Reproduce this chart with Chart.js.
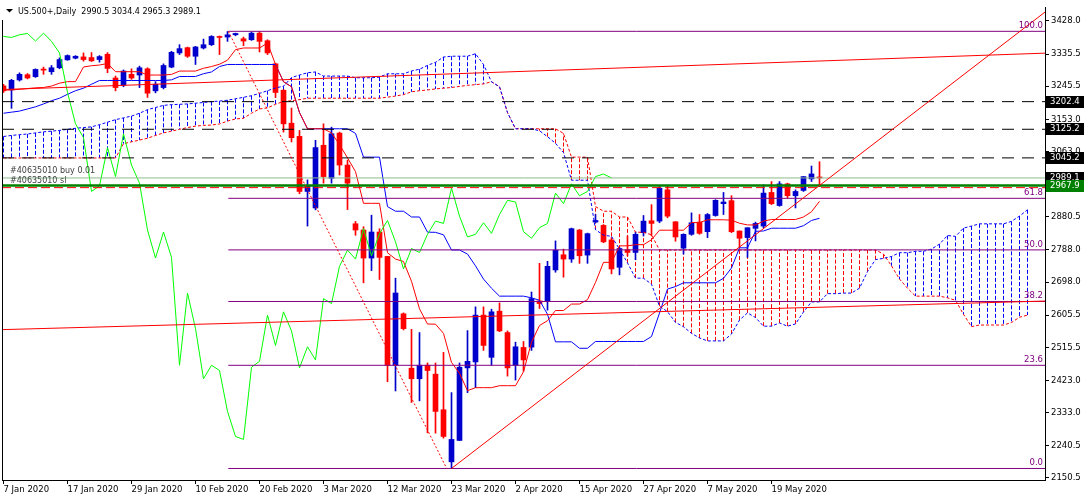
<!DOCTYPE html>
<html>
<head>
<meta charset="utf-8">
<title>US.500+,Daily</title>
<script src="https://cdn.jsdelivr.net/npm/chart.js@4.4.1/dist/chart.umd.min.js"></script>
<style>
html, body { margin: 0; padding: 0; background: #fff; }
#wrap { position: relative; width: 1086px; height: 501px; }
</style>
</head>
<body>
<div id="wrap"><canvas id="chart" width="1086" height="501"></canvas></div>
<script>
"use strict";

// time axis: a date label every 8th bar
var dateLabels = ['7 Jan 2020', '17 Jan 2020', '29 Jan 2020', '10 Feb 2020', '20 Feb 2020', '3 Mar 2020',
    '12 Mar 2020', '23 Mar 2020', '2 Apr 2020', '15 Apr 2020', '27 Apr 2020', '7 May 2020', '19 May 2020'];
var dateLabelBars = [0, 8, 16, 24, 32, 40, 48, 56, 64, 72, 80, 88, 96];

var priceTicks = [3428.0, 3335.5, 3245.5, 3153.0, 3063.0, 2970.5, 2880.5, 2788.0, 2698.0,
    2605.5, 2515.5, 2423.0, 2333.0, 2240.5, 2150.5];

// daily candles, bar 0 = 7 Jan 2020
var opens = [3246.4, 3235.3, 3263, 3277.7, 3272.2, 3292.5, 3286, 3297.1, 3319.2, 3323.9,
    3327.5, 3325.7, 3320.1, 3334.9, 3268.5, 3248.2, 3278.7, 3276.8, 3294.3, 3232.6,
    3241.8, 3299, 3338.6, 3353.3, 3329.3, 3352.4, 3361.6, 3384.7, 3382.9, 3389.3,
    3378.2, 3375.5, 3393.9, 3372.7, 3308.2, 3234.4, 3142.2, 3105.3, 2951.4, 2905.3,
    3080.5, 2988.3, 3114.6, 3025.2, 2861.1, 2843.6, 2765.2, 2838, 2769.8, 2465.6,
    2609.4, 2457.3, 2427.8, 2465.6, 2440.7, 2341.2, 2195.5, 2255.4, 2458.2, 2474.8,
    2605.7, 2487.7, 2616.8, 2556.9, 2465.6, 2515.4, 2516.3, 2645.4, 2645.4, 2732,
    2774.4, 2762.4, 2843.6, 2773.5, 2865.7, 2856.5, 2815.9, 2739.4, 2788.2, 2780.9,
    2836.2, 2869.4, 2868.5, 2956, 2866.6, 2792.8, 2831.6, 2865.7, 2839, 2884.1,
    2917.3, 2925.6, 2840.8, 2822.4, 2848.2, 2854.6, 2948.6, 2912, 2972.6, 2939.4,
    2954.2, 2986.4, 2990.5];
var highs = [3251, 3264.8, 3283, 3281, 3294, 3299, 3303.5, 3324.8, 3333, 3331,
    3338.6, 3339.5, 3331.2, 3339.5, 3274, 3291, 3294.3, 3301.7, 3297.1, 3258.5,
    3308, 3343, 3361.7, 3355, 3357, 3377.3, 3387, 3386, 3398.5, 3394,
    3382.9, 3396.7, 3398.5, 3375.5, 3310, 3236, 3184.6, 3121.9, 2983.7, 3094.3,
    3140.4, 3131, 3117.3, 3039, 2867.5, 2852.8, 2885, 2847.2, 2770, 2709,
    2612, 2566, 2556.9, 2472, 2472, 2501.5, 2389.1, 2472, 2562.4, 2628.8,
    2628.8, 2622.3, 2639.8, 2561.5, 2530.1, 2532, 2670.3, 2750.4, 2756, 2813.1,
    2790.1, 2849, 2845, 2835, 2886.9, 2859, 2822.4, 2794.7, 2827, 2838,
    2884.1, 2914.5, 2968, 2965.3, 2867, 2833, 2891.5, 2886.9, 2889.7, 2928.4,
    2948.6, 2939.4, 2840.8, 2850, 2865.7, 2970, 2979, 2979, 2974.5, 2956,
    2993, 3022.4, 3034.4];
var lows = [3228, 3183.7, 3260, 3266, 3270, 3278.7, 3278.7, 3294.3, 3318, 3322,
    3315.5, 3314.6, 3312.8, 3283.3, 3232.6, 3244, 3264.8, 3241.8, 3214.1, 3227,
    3238, 3297, 3334, 3326, 3306.3, 3349.6, 3359, 3334, 3370.9, 3386.5,
    3359, 3373.6, 3341.3, 3334, 3214.1, 3117.3, 3089.7, 2945, 2854.6, 2900,
    2974.5, 2974.5, 2997.5, 2900.7, 2828.8, 2696, 2730.2, 2705.3, 2419.5, 2393.7,
    2564.2, 2361.4, 2366, 2276.6, 2275.7, 2261.9, 2177, 2255, 2389.1, 2402.9,
    2507.1, 2465.6, 2559.6, 2435.2, 2424.1, 2449, 2507.1, 2624.2, 2619.6, 2725.6,
    2711.7, 2753.2, 2750.4, 2750.4, 2863.8, 2808, 2721, 2718.2, 2771.6, 2760.6,
    2827, 2827, 2863.8, 2877.7, 2812.2, 2776.3, 2828.8, 2831.6, 2822.4, 2882.2,
    2886.9, 2836.2, 2794.7, 2767, 2813.1, 2850, 2914.5, 2910, 2933, 2905.3,
    2951.4, 2979.1, 2965.3];
var closes = [3232.6, 3262, 3278.7, 3268.5, 3292.5, 3290.6, 3297.1, 3320.1, 3331.2, 3329.3,
    3320.1, 3316.5, 3328.4, 3295.3, 3241.8, 3287.9, 3268.5, 3297.1, 3226.1, 3251,
    3303.5, 3340.4, 3350.6, 3329.3, 3355.2, 3361.6, 3384.7, 3381.9, 3389.3, 3393,
    3371.8, 3393.9, 3370.9, 3338.6, 3228, 3140.4, 3101.7, 2951.4, 2967.1, 3074,
    2992.9, 3112.7, 3025.2, 2974.5, 2843.6, 2765.2, 2838, 2767, 2465.6, 2667.5,
    2567.9, 2427.8, 2465.6, 2450.9, 2336.5, 2266.5, 2258.2, 2460.1, 2476.6, 2605.7,
    2520.9, 2614.9, 2561.5, 2458.2, 2517.2, 2480.4, 2651.8, 2638, 2742.2, 2787.3,
    2762.4, 2847.3, 2771.6, 2833.4, 2870.3, 2810.4, 2734.8, 2791.9, 2780.9, 2831.6,
    2868.5, 2862, 2960.6, 2882.3, 2824.2, 2831.6, 2863.8, 2834.3, 2886.9, 2926.5,
    2921.9, 2839, 2820.5, 2850, 2862, 2946.8, 2917.3, 2972.6, 2939.4, 2951.4,
    2992.9, 3000.3, 2989.1];

// ichimoku lines
var tenkan = [3235, 3235, 3237, 3239, 3241, 3242, 3246, 3254, 3258.4, 3258.4,
    3299.3, 3302.8, 3304.8, 3309.1, 3286.1, 3286.1, 3286.1, 3286.1, 3276.8, 3276.8,
    3276.8, 3278.6, 3287.9, 3287.9, 3287.9, 3295.7, 3300.6, 3307, 3318.3, 3347.8,
    3352.4, 3352.4, 3352.4, 3366.3, 3306.3, 3257.9, 3244.1, 3171.8, 3126.6, 3126.6,
    3126.6, 3115.1, 3082.3, 3045.3, 3006.7, 2918.2, 2918.2, 2918.2, 2780, 2762.4,
    2755.5, 2700.2, 2623.2, 2580.8, 2580.4, 2554.6, 2473.5, 2443, 2394.5, 2402.9,
    2402.9, 2402.9, 2408.4, 2408.4, 2408.4, 2447.4, 2529.7, 2576.7, 2590, 2618.6,
    2618.6, 2636.6, 2636.6, 2649, 2697, 2753.3, 2753.3, 2799.3, 2799.3, 2802.6,
    2802.6, 2816.4, 2843.1, 2843.1, 2843.1, 2843.1, 2864.3, 2864.3, 2872.2, 2872.2,
    2872.2, 2870.8, 2862.5, 2857.8, 2857.8, 2868.5, 2873, 2873, 2873, 2873,
    2880, 2894.7, 2923.8];
var kijun = [3170, 3173, 3176, 3182, 3188, 3196, 3205, 3212, 3223, 3233,
    3240, 3251, 3261.6, 3261.6, 3261.6, 3261.6, 3261.6, 3261.6, 3261.6, 3261.6,
    3261.6, 3263.4, 3272.7, 3272.7, 3272.7, 3280.5, 3285.4, 3300.6, 3306.3, 3306.3,
    3306.3, 3306.3, 3306.3, 3306.3, 3306.3, 3257.9, 3244.1, 3171.8, 3126.6, 3126.6,
    3126.6, 3126.6, 3126.6, 3126.6, 3113.7, 3047.3, 3047.3, 3047.3, 2909, 2896.1,
    2896.1, 2880, 2880, 2837.6, 2837.1, 2830.2, 2787.8, 2787.8, 2776.3, 2743.5,
    2706.5, 2680.8, 2658.7, 2658.7, 2658.7, 2658.7, 2654, 2647.2, 2608, 2531,
    2531, 2531, 2513, 2513, 2532, 2532, 2532, 2532, 2532, 2532,
    2532, 2545.8, 2611.5, 2678.6, 2685.5, 2696, 2696, 2696, 2696, 2696,
    2708.5, 2737.6, 2793.8, 2793.8, 2839.9, 2840.9, 2848.6, 2848.6, 2848.6, 2848.6,
    2855.6, 2870.3, 2876.3];
// cloud spans run 26 bars past the last candle
var spanA = [3105, 3108, 3110, 3112, 3115, 3118, 3120, 3122, 3125, 3128,
    3130, 3132, 3138, 3145, 3152, 3157, 3162, 3170, 3180, 3186,
    3192, 3194, 3195, 3196, 3198, 3200,
    3202.5, 3204, 3206.5, 3210.5, 3214.5, 3219, 3225.5, 3233, 3240.7, 3245.7,
    3269.7, 3276.9, 3283.2, 3285.4, 3273.9, 3273.9, 3273.9, 3273.9, 3269.2, 3269.2,
    3269.2, 3271, 3280.3, 3280.3, 3280.3, 3288.1, 3293, 3303.8, 3312.3, 3327.1,
    3329.4, 3329.4, 3329.4, 3336.3, 3306.3, 3257.9, 3244.1, 3171.8, 3126.6, 3126.6,
    3126.6, 3120.9, 3104.5, 3086, 3060.2, 2982.8, 2982.8, 2982.8, 2844.5, 2829.3,
    2825.8, 2790.1, 2751.6, 2709.2, 2708.8, 2692.4, 2630.7, 2615.4, 2585.4, 2573.2,
    2554.7, 2541.9, 2533.6, 2533.6, 2533.6, 2553, 2591.9, 2612, 2599, 2574.8,
    2574.8, 2583.8, 2574.8, 2581, 2614.5, 2642.7, 2642.7, 2665.7, 2665.7, 2667.3,
    2667.3, 2681.1, 2727.3, 2760.9, 2764.3, 2769.6, 2780.2, 2780.2, 2784.1, 2784.1,
    2790.4, 2804.2, 2828.2, 2825.8, 2848.9, 2854.7, 2860.8, 2860.8, 2860.8, 2860.8,
    2867.8, 2882.5, 2900.1];
var spanB = [3045, 3045, 3045, 3045, 3045, 3045, 3045, 3045, 3045, 3045,
    3045, 3045, 3045, 3045, 3045,
    3085, 3090, 3095, 3100, 3108, 3115, 3120, 3125, 3130, 3134,
    3136, 3137, 3140, 3148, 3154, 3156, 3170, 3182, 3185, 3195,
    3203, 3205, 3208, 3212, 3212, 3212, 3212, 3212, 3212, 3212,
    3212, 3212, 3212, 3215, 3218, 3222, 3230, 3233, 3235, 3238,
    3240, 3242, 3245, 3248, 3250, 3252,
    3257.9, 3244.1, 3171.8, 3126.6, 3126.6, 3126.6, 3126.6, 3126.6, 3126.6, 3113.7,
    3047.3, 3047.3, 3047.3, 2909, 2896.1, 2896.1, 2880, 2880, 2837.6, 2837.1,
    2830.2, 2787.8, 2787.8, 2787.8, 2787.8, 2787.8, 2787.8, 2787.8, 2787.8, 2787.8,
    2787.8, 2787.8, 2787.8, 2787.8, 2787.8, 2787.8, 2787.8, 2787.8, 2787.8, 2787.8,
    2787.8, 2787.8, 2787.8, 2787.8, 2787.8, 2787.8, 2787.8, 2787.8, 2787.8,
    2776.3, 2743.5, 2706.5, 2680.8, 2658.7, 2658.7, 2658.7, 2658.7, 2654, 2647.2,
    2608, 2573.5, 2578, 2578, 2578, 2578, 2585, 2599.7, 2605.7];
var chikouShift = 26;

// objects drawn on the chart
var fibLevels = ['0.0', '23.6', '38.2', '50.0', '61.8', '100.0'];
var fibPrices = [2177, 2465.4, 2643.8, 2788, 2932.2, 3399];
var fibStartBar = 28.1;
var fibDiagonal = [[28.1, 3399], [55.4, 2177]];
var dashedLevels = [3202.4, 3125.2, 3045.2];
var bidPrice = 2989.1;
var orderPrice = 2967.9;
var stopPrice = 2962;
var upperTrend = [[-0.4, 3236], [130.2, 3338]];
var lowerTrend = [[-0.4, 2565], [130.2, 2645]];
var riseTrend = [[56, 2177], [130.2, 3453]];
var axisBoxes = [[3202.4, '#000000'], [3125.2, '#000000'], [3045.2, '#000000'],
    [2989.1, '#000000'], [2967.9, '#008000']];

var X_MIN = -0.1875, X_MAX = 130.1875;
var Y_MIN = 2144.8, Y_MAX = 3466.7;
var FONT = '"DejaVu Sans", Tahoma, sans-serif';
var BULL = '#0000cd', BEAR = '#ff0000';

function segment(points, color, width, dash, order) {
    return {
        type: 'line',
        data: points.map(function (p) { return {x: p[0], y: p[1]}; }),
        borderColor: color,
        borderWidth: width,
        borderDash: dash || [],
        pointRadius: 0,
        fill: false,
        tension: 0,
        order: order
    };
}

function series(values, shift, color, dash, order) {
    return {
        type: 'line',
        data: values.map(function (v, i) { return {x: i + shift, y: v}; }),
        borderColor: color,
        borderWidth: 1,
        borderDash: dash || [],
        pointRadius: 0,
        fill: false,
        tension: 0,
        order: order
    };
}

function candleColors() {
    return closes.map(function (c, i) { return c >= opens[i] ? BULL : BEAR; });
}

var datasets = [];

// chart objects on top
datasets.push(segment(upperTrend, '#ff0000', 1, null, 1));
datasets.push(segment(lowerTrend, '#ff0000', 1, null, 1));
datasets.push(segment(riseTrend, '#ff0000', 1, null, 1));
datasets.push(segment(fibDiagonal, '#ff0000', 1, [2, 2], 1));
fibPrices.forEach(function (p) {
    datasets.push(segment([[fibStartBar, p], [X_MAX, p]], '#800080', 1, null, 1));
});
dashedLevels.forEach(function (p) {
    datasets.push(segment([[X_MIN, p], [X_MAX, p]], '#000000', 1, [12, 8], 1));
});
datasets.push(segment([[X_MIN, bidPrice], [X_MAX, bidPrice]], '#8cbc8c', 1, null, 1));
datasets.push(segment([[X_MIN, orderPrice], [X_MAX, orderPrice]], '#008000', 2.5, null, 1));
datasets.push(segment([[X_MIN, stopPrice], [X_MAX, stopPrice]], '#ff0000', 1, [9, 4], 1));

// ichimoku
datasets.push(series(closes, -chikouShift, '#00ff00', null, 2));
datasets.push(series(tenkan, 0, '#ff0000', null, 2));
datasets.push(series(kijun, 0, '#0000ff', null, 2));
datasets.push(series(spanA, 0, '#0000ff', [3, 2], 2));
datasets.push(series(spanB, 0, '#ff0000', [3, 2], 2));

// candles
datasets.push({
    type: 'bar',
    data: opens.map(function (o, i) { return {x: i, y: [Math.min(o, closes[i]), Math.max(o, closes[i])]}; }),
    backgroundColor: candleColors(),
    borderWidth: 0,
    barThickness: 5,
    minBarLength: 1,
    grouped: false,
    order: 3
});
datasets.push({
    type: 'bar',
    data: lows.map(function (l, i) { return {x: i, y: [l, highs[i]]}; }),
    backgroundColor: candleColors(),
    borderWidth: 0,
    barThickness: 1,
    minBarLength: 1,
    grouped: false,
    order: 4
});

var cloudHatch = {
    id: 'cloudHatch',
    beforeDatasetsDraw: function (chart) {
        var ctx = chart.ctx, xs = chart.scales.x, ys = chart.scales.y, area = chart.chartArea;
        ctx.save();
        ctx.beginPath();
        ctx.rect(area.left, area.top, area.right - area.left, area.bottom - area.top);
        ctx.clip();
        ctx.lineWidth = 1;
        ctx.setLineDash([4, 2]);
        spanA.forEach(function (a, j) {
            var b = spanB[j];
            if (a === b) { return; }
            var px = Math.floor(xs.getPixelForValue(j)) + 0.5;
            ctx.strokeStyle = a > b ? '#0000ff' : '#ff0000';
            ctx.beginPath();
            ctx.moveTo(px, ys.getPixelForValue(a));
            ctx.lineTo(px, ys.getPixelForValue(b));
            ctx.stroke();
        });
        ctx.restore();
    }
};

var chartText = {
    id: 'chartText',
    afterDatasetsDraw: function (chart) {
        var ctx = chart.ctx, ys = chart.scales.y, area = chart.chartArea;
        ctx.save();
        ctx.font = '8.5px ' + FONT;
        ctx.fillStyle = '#800080';
        ctx.textAlign = 'right';
        ctx.textBaseline = 'bottom';
        fibLevels.forEach(function (lvl, k) {
            ctx.fillText(lvl, area.right - 2, ys.getPixelForValue(fibPrices[k]) - 1);
        });
        ctx.font = '8px ' + FONT;
        ctx.fillStyle = '#404040';
        ctx.textAlign = 'left';
        ctx.textBaseline = 'alphabetic';
        ctx.fillText('#40635010 buy 0.01', area.left + 8, ys.getPixelForValue(bidPrice) - 4.5);
        ctx.fillText('#40635010 sl', area.left + 8, ys.getPixelForValue(stopPrice) - 4.5);
        ctx.restore();
    },
    afterDraw: function (chart) {
        var ctx = chart.ctx, ys = chart.scales.y, area = chart.chartArea;
        ctx.save();
        // price boxes on the axis
        ctx.font = '8.5px ' + FONT;
        ctx.textBaseline = 'middle';
        ctx.textAlign = 'left';
        axisBoxes.forEach(function (b) {
            var py = Math.round(ys.getPixelForValue(b[0]));
            ctx.fillStyle = b[1];
            ctx.fillRect(area.right + 1, py - 6, 38, 12);
            ctx.fillStyle = '#ffffff';
            ctx.fillText(b[0].toFixed(1), area.right + 5, py);
        });
        // left frame
        ctx.strokeStyle = '#000';
        ctx.lineWidth = 1;
        ctx.beginPath();
        ctx.moveTo(area.left + 0.5, 20);
        ctx.lineTo(area.left + 0.5, area.bottom);
        ctx.stroke();
        // header
        ctx.fillStyle = '#000';
        ctx.beginPath();
        ctx.moveTo(6, 9);
        ctx.lineTo(13, 9);
        ctx.lineTo(9.5, 12.5);
        ctx.closePath();
        ctx.fill();
        ctx.font = '8px ' + FONT;
        ctx.textBaseline = 'alphabetic';
        ctx.fillText('US.500+,Daily  ' + opens[opens.length - 1].toFixed(1) + ' ' +
            highs[highs.length - 1].toFixed(1) + ' ' + lows[lows.length - 1].toFixed(1) + ' ' +
            closes[closes.length - 1].toFixed(1), 18, 14);
        ctx.restore();
    }
};

new Chart(document.getElementById('chart'), {
    type: 'line',
    data: {datasets: datasets},
    options: {
        responsive: false,
        animation: false,
        devicePixelRatio: 1,
        events: [],
        layout: {padding: {left: 2, top: 2, right: 0, bottom: 0}},
        plugins: {legend: {display: false}, tooltip: {enabled: false}},
        scales: {
            x: {
                type: 'linear',
                position: 'bottom',
                min: X_MIN,
                max: X_MAX,
                offset: false,
                grid: {display: true, drawOnChartArea: false, drawTicks: true, tickLength: 4, color: '#000', offset: false},
                border: {display: true, color: '#000'},
                ticks: {
                    autoSkip: false,
                    maxRotation: 0,
                    align: 'start',
                    padding: 1,
                    color: '#000',
                    font: {family: FONT, size: 8.5},
                    callback: function (v) {
                        var k = dateLabelBars.indexOf(v);
                        return k >= 0 ? dateLabels[k] : '';
                    }
                },
                afterBuildTicks: function (axis) {
                    axis.ticks = dateLabelBars.map(function (v) { return {value: v}; });
                },
                afterFit: function (axis) { axis.height = 21; }
            },
            y: {
                type: 'linear',
                position: 'right',
                min: Y_MIN,
                max: Y_MAX,
                grid: {display: true, drawOnChartArea: false, drawTicks: true, tickLength: 4, color: '#000'},
                border: {display: true, color: '#000'},
                ticks: {
                    autoSkip: false,
                    padding: 2,
                    color: '#000',
                    font: {family: FONT, size: 8.5},
                    callback: function (v) { return Number(v).toFixed(1); }
                },
                afterBuildTicks: function (axis) {
                    axis.ticks = priceTicks.map(function (v) { return {value: v}; });
                },
                afterFit: function (axis) { axis.width = 41; }
            }
        }
    },
    plugins: [cloudHatch, chartText]
});
</script>
</body>
</html>
